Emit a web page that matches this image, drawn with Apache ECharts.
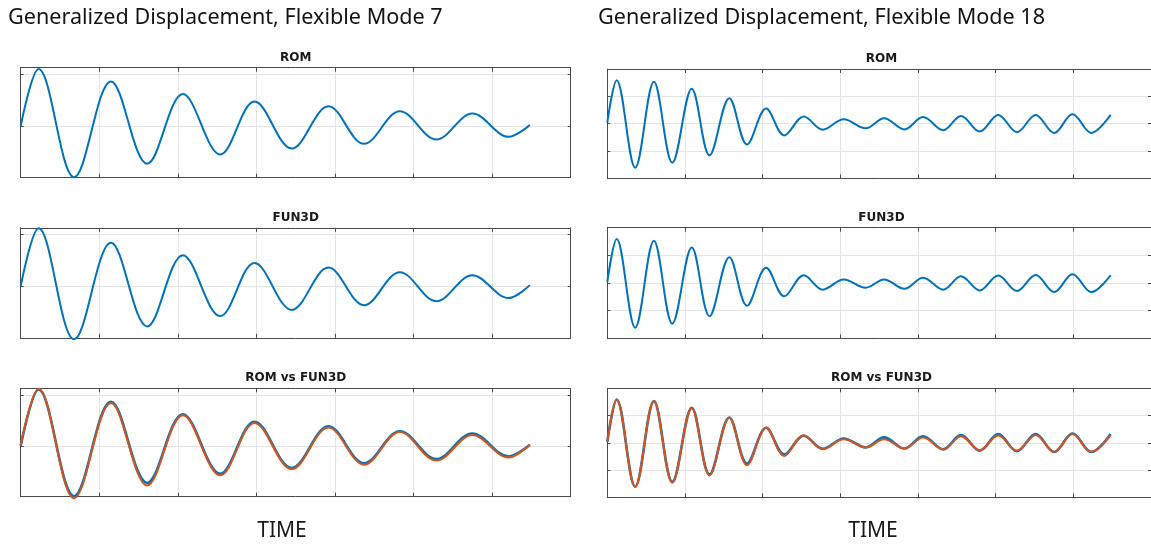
<!DOCTYPE html>
<html><head><meta charset="utf-8">
<script src="https://cdn.jsdelivr.net/npm/echarts@6/dist/echarts.min.js"></script>
<style>html,body{margin:0;padding:0;background:#fff}#c{width:1151px;height:546px}</style>
</head><body><div id="c"></div>
<script>
// ---- data (start, successive peaks/troughs, end) ----
const time7 = [0, 0.228, 0.68, 1.149, 1.61, 2.064, 2.54, 2.976, 3.45, 3.917, 4.37, 4.826, 5.29, 5.748, 6.21, 6.48];
const rom7  = [0, 1.106, -0.99, 0.865, -0.73, 0.62, -0.55, 0.474, -0.435, 0.383, -0.344, 0.286, -0.261, 0.242, -0.209, 0.02];
const fun7  = [0, 1.12, -1.03, 0.84, -0.78, 0.60, -0.58, 0.45, -0.46, 0.36, -0.37, 0.27, -0.29, 0.21, -0.23, 0.02];

const time18 = [0, 0.121, 0.359, 0.60, 0.837, 1.088, 1.316, 1.571, 1.799, 2.045, 2.278, 2.529, 2.774, 3.044, 3.327, 3.563, 3.824, 4.065, 4.325, 4.553, 4.795, 5.032, 5.274, 5.515, 5.753, 5.989, 6.231, 6.48];
const rom18  = [0.04, 1.59, -1.61, 1.53, -1.43, 1.28, -1.16, 0.93, -0.76, 0.55, -0.43, 0.26, -0.22, 0.16, -0.17, 0.20, -0.21, 0.24, -0.24, 0.28, -0.29, 0.32, -0.31, 0.32, -0.34, 0.34, -0.34, 0.32];
const fun18  = [0.04, 1.59, -1.62, 1.53, -1.47, 1.28, -1.20, 0.93, -0.82, 0.55, -0.48, 0.28, -0.24, 0.13, -0.17, 0.13, -0.21, 0.19, -0.24, 0.24, -0.27, 0.27, -0.29, 0.29, -0.33, 0.32, -0.33, 0.28];

const mainTitles = ['Generalized Displacement, Flexible Mode 7', 'Generalized Displacement, Flexible Mode 18'];
const panelTitles = ['ROM', 'FUN3D', 'ROM vs FUN3D'];
const xLabel = 'TIME';
const xRange = [0, 7];
const yRange7 = [-1, 1.13];
const yRange18 = [-2, 2];

// ---- layout ----
const colLeft = [20.7, 607.3];
const colWidth = [550, 548.3];
const rowTop = [[67.7, 227.8, 388.3], [69, 227.7, 388.3]];
const rowHeight = [[110, 110, 108.4], [109.3, 110.6, 109]];
const BLUE = '#0072BD', ORANGE = '#D95319';
const AX = '#4a4a4a', GRIDC = '#e4e4e4';

function pairs(t, v) { return t.map((x, i) => [x, v[i]]); }

const grids = [], xAxes = [], yAxes = [], series = [], graphics = [];
let gi = 0;
for (let c = 0; c < 2; c++) {
  const t = c === 0 ? time7 : time18;
  const rom = c === 0 ? rom7 : rom18;
  const fun = c === 0 ? fun7 : fun18;
  const yr = c === 0 ? yRange7 : yRange18;
  for (let r = 0; r < 3; r++) {
    grids.push({left: colLeft[c], top: rowTop[c][r], width: colWidth[c], height: rowHeight[c][r], show: false});
    const common = {gridIndex: gi, type: 'value', axisLabel: {show: false},
      axisLine: {show: true, onZero: false, lineStyle: {color: AX, width: 1}},
      axisTick: {show: true, inside: true, length: 4, lineStyle: {color: AX}}};
    xAxes.push(Object.assign({}, common, {position: 'bottom', min: xRange[0], max: xRange[1], interval: 1,
      splitLine: {show: true, lineStyle: {color: GRIDC, width: 1}}}));
    xAxes.push(Object.assign({}, common, {position: 'top', min: xRange[0], max: xRange[1], interval: 1,
      splitLine: {show: false}}));
    yAxes.push(Object.assign({}, common, {position: 'left', min: yr[0], max: yr[1], interval: 1,
      axisTick: {show: true, inside: true, length: 3, lineStyle: {color: AX}},
      splitLine: {show: true, lineStyle: {color: GRIDC, width: 1}}}));
    yAxes.push(Object.assign({}, common, {position: 'right', min: yr[0], max: yr[1], interval: 1,
      axisTick: {show: true, inside: true, length: 3, lineStyle: {color: AX}},
      splitLine: {show: false}}));
    const base = {type: 'line', xAxisIndex: 2 * gi, yAxisIndex: 2 * gi, smooth: 0.36,
      showSymbol: false, symbol: 'none', clip: false, silent: true, animation: false};
    if (r === 0 || r === 2) {
      series.push(Object.assign({}, base, {name: 'ROM', data: pairs(t, rom),
        lineStyle: {color: BLUE, width: r === 2 ? 2.6 : 2}, z: 2}));
    }
    if (r === 1 || r === 2) {
      series.push(Object.assign({}, base, {name: 'FUN3D', data: pairs(t, fun),
        lineStyle: {color: r === 2 ? ORANGE : BLUE, width: 2}, z: 3}));
    }
    graphics.push({type: 'text', x: colLeft[c] + colWidth[c] / 2, y: rowTop[c][r] - 10,
      style: {text: panelTitles[r], font: 'bold 12px "DejaVu Sans"', fill: '#1a1a1a',
        textAlign: 'center', textVerticalAlign: 'middle'}});
    gi++;
  }
}
graphics.push({type: 'text', x: 8, y: 18, style: {text: mainTitles[0], font: '21.6px "Noto Sans"', fill: '#141414', textAlign: 'left', textVerticalAlign: 'middle'}});
graphics.push({type: 'text', x: 598, y: 18, style: {text: mainTitles[1], font: '21.6px "Noto Sans"', fill: '#141414', textAlign: 'left', textVerticalAlign: 'middle'}});
graphics.push({type: 'text', x: 282, y: 531, style: {text: xLabel, font: '21px "Noto Sans"', fill: '#1a1a1a', textAlign: 'center', textVerticalAlign: 'middle'}});
graphics.push({type: 'text', x: 873, y: 531, style: {text: xLabel, font: '21px "Noto Sans"', fill: '#1a1a1a', textAlign: 'center', textVerticalAlign: 'middle'}});

const chart = echarts.init(document.getElementById('c'), null, {renderer: 'canvas'});
chart.setOption({
  backgroundColor: '#ffffff',
  animation: false,
  grid: grids, xAxis: xAxes, yAxis: yAxes, series: series, graphic: graphics
});
</script></body></html>
